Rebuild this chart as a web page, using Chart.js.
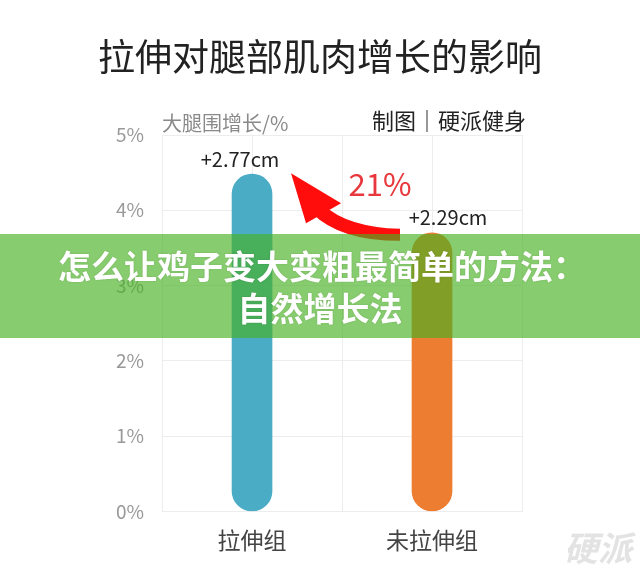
<!DOCTYPE html>
<html>
<head>
<meta charset="utf-8">
<script src="https://cdn.jsdelivr.net/npm/chart.js@4"></script>
<style>
  html, body { margin: 0; padding: 0; background: #fff; }
  #wrap { width: 640px; height: 572px; }
</style>
</head>
<body>
<div id="wrap"><canvas id="legChart" width="640" height="572"></canvas></div>
<script>
const categories = ["拉伸组", "未拉伸组"];
const growthPct = [4.48, 3.70];
const growthCm = ["+2.77cm", "+2.29cm"];
const yTicks = [0, 1, 2, 3, 4, 5];
const diffLabel = "21%";

const FONT = '"Noto Sans CJK SC", "Noto Sans", sans-serif';

// title, notes, arrow, banner and watermark drawn on top of the chart
const decor = {
  id: "decor",
  beforeDatasetsDraw(chart) {
    const { ctx, chartArea, scales } = chart;
    // faint lines through the bar centres
    ctx.save();
    ctx.strokeStyle = "#ededed";
    ctx.lineWidth = 1;
    categories.forEach((c, i) => {
      const x = Math.round(scales.x.getPixelForValue(i)) + 0.5;
      ctx.beginPath();
      ctx.moveTo(x, chartArea.top);
      ctx.lineTo(x, chartArea.bottom);
      ctx.stroke();
    });
    ctx.restore();
  },
  afterDraw(chart) {
    const { ctx, chartArea, scales } = chart;
    const xs = scales.x, ys = scales.y;
    ctx.save();
    ctx.textBaseline = "middle";

    ctx.textAlign = "center";
    ctx.fillStyle = "#222";
    ctx.font = "37px " + FONT;
    ctx.fillText("拉伸对腿部肌肉增长的影响", 320, 57);

    ctx.textAlign = "left";
    ctx.fillStyle = "#8a8a8a";
    ctx.font = "20px " + FONT;
    ctx.fillText("大腿围增长/%", chartArea.left, 123);

    ctx.textAlign = "right";
    ctx.fillStyle = "#222";
    ctx.font = "22px " + FONT;
    ctx.fillText("制图｜硬派健身", chartArea.right + 4, 121);

    // value labels above bars
    const labelShift = [-12, 16];
    ctx.textAlign = "center";
    ctx.fillStyle = "#222";
    ctx.font = "20px " + FONT;
    growthCm.forEach((t, i) => {
      const x = xs.getPixelForValue(i) + labelShift[i];
      const y = ys.getPixelForValue(growthPct[i]) - 15;
      ctx.fillText(t, x, y);
    });

    // arrow from the second bar back to the first
    const x0 = xs.getPixelForValue(0), x1 = xs.getPixelForValue(1);
    const yTop0 = ys.getPixelForValue(growthPct[0]);
    const yTop1 = ys.getPixelForValue(growthPct[1]);
    const tip = { x: x0 + 39, y: yTop0 - 1 };
    const tailX = x1 - 32, tailY = yTop1 + 2;
    ctx.fillStyle = "#ff0d0d";
    ctx.beginPath();
    ctx.moveTo(tailX, tailY - 6);
    ctx.quadraticCurveTo(x0 + 95, tailY - 8, x0 + 72, tip.y + 32);
    ctx.lineTo(x0 + 60, tip.y + 40);
    ctx.quadraticCurveTo(x0 + 88, tailY + 6, tailX, tailY + 6);
    ctx.closePath();
    ctx.fill();
    ctx.beginPath();
    ctx.moveTo(tip.x, tip.y);
    ctx.lineTo(x0 + 89, tip.y + 30);
    ctx.lineTo(x0 + 54, tip.y + 50);
    ctx.closePath();
    ctx.fill();

    ctx.fillStyle = "#e8383d";
    ctx.font = "31px " + FONT;
    ctx.fillText(diffLabel, (x0 + x1) / 2 + 38, yTop0 + 10);

    // watermark
    ctx.fillStyle = "rgba(200,200,200,0.5)";
    ctx.font = "italic bold 34px " + FONT;
    ctx.fillText("硬派", 598, 548);

    // green banner across the chart
    ctx.fillStyle = "rgba(71,177,32,0.65)";
    ctx.fillRect(0, 234, chart.width, 104);
    ctx.fillStyle = "#fff";
    ctx.font = "bold 33px " + FONT;
    ctx.shadowColor = "rgba(0,0,0,0.15)";
    ctx.shadowBlur = 2;
    ctx.fillText("怎么让鸡子变大变粗最简单的方法：", 322, 266);
    ctx.fillText("自然增长法", 320, 308);
    ctx.restore();
  }
};

new Chart(document.getElementById("legChart"), {
  type: "bar",
  data: {
    labels: categories,
    datasets: [{
      data: growthPct,
      backgroundColor: ["#4bacc6", "#ed7d31"],
      barThickness: 40,
      borderRadius: 20,
      borderSkipped: false
    }]
  },
  options: {
    responsive: false,
    animation: false,
    devicePixelRatio: 1,
    layout: { padding: { top: 135, right: 118, bottom: 3, left: 98 } },
    plugins: { legend: { display: false }, tooltip: { enabled: false } },
    scales: {
      x: {
        grid: { color: "#ededed", drawTicks: false, offset: true },
        border: { color: "#ededed" },
        ticks: { color: "#444", padding: 15, font: { size: 23, family: FONT } }
      },
      y: {
        min: 0,
        max: 5,
        afterBuildTicks(axis) { axis.ticks = yTicks.map(v => ({ value: v })); },
        grid: { color: "#ededed", drawTicks: false },
        border: { color: "#ededed" },
        ticks: {
          color: "#999",
          padding: 18,
          font: { size: 19, family: FONT },
          callback: v => v + "%"
        }
      }
    }
  },
  plugins: [decor]
});
</script>
</body>
</html>
